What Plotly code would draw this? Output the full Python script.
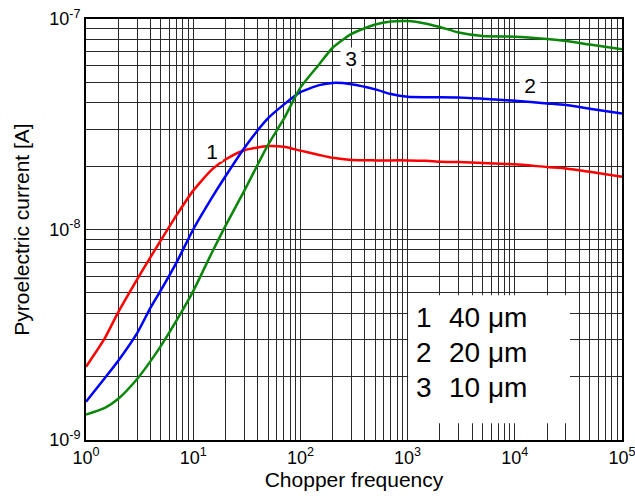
import plotly.graph_objects as go
import math

# ---- data ----
freq = [1, 1.5, 2, 3, 4, 5, 7, 10, 15, 20, 30, 50, 70, 100, 150, 200, 300, 500, 700,
        1000, 1500, 2000, 3000, 5000, 1e4, 2e4, 3e4, 5e4, 1e5]

cur_40um = [2.23e-9, 3.05e-9, 4.05e-9, 5.8e-9, 7.4e-9, 8.9e-9, 1.17e-8, 1.53e-8, 1.93e-8, 2.15e-8,
            2.38e-8, 2.49e-8, 2.47e-8, 2.37e-8, 2.26e-8, 2.19e-8, 2.14e-8, 2.13e-8, 2.13e-8,
            2.13e-8, 2.12e-8, 2.1e-8, 2.09e-8, 2.07e-8, 2.04e-8, 1.98e-8, 1.95e-8, 1.88e-8, 1.78e-8]

cur_20um = [1.52e-9, 1.97e-9, 2.38e-9, 3.22e-9, 4.25e-9, 5.15e-9, 6.98e-9, 1.0e-8, 1.42e-8, 1.79e-8,
            2.44e-8, 3.38e-8, 3.92e-8, 4.49e-8, 4.85e-8, 4.97e-8, 4.9e-8, 4.63e-8, 4.4e-8,
            4.27e-8, 4.25e-8, 4.25e-8, 4.24e-8, 4.18e-8, 4.09e-8, 3.97e-8, 3.9e-8, 3.75e-8, 3.56e-8]

cur_10um = [1.32e-9, 1.42e-9, 1.57e-9, 1.95e-9, 2.37e-9, 2.8e-9, 3.7e-9, 5.1e-9, 7.8e-9, 1.04e-8,
            1.53e-8, 2.53e-8, 3.35e-8, 4.72e-8, 6.1e-8, 7.3e-8, 8.5e-8, 9.42e-8, 9.73e-8,
            9.78e-8, 9.5e-8, 9.16e-8, 8.63e-8, 8.3e-8, 8.24e-8, 8.03e-8, 7.86e-8, 7.56e-8, 7.18e-8]

series_names = ["1", "2", "3"]
series_colors = ["#ff0000", "#0000ff", "#0a870a"]
legend_numbers = ["1", "2", "3"]
legend_values = ["40 \u03bcm", "20 \u03bcm", "10 \u03bcm"]

x_tickvals = [1, 10, 100, 1000, 1e4, 1e5]
x_ticktext = ["10<sup>0</sup>", "10<sup>1</sup>", "10<sup>2</sup>", "10<sup>3</sup>",
              "10<sup>4</sup>", "10<sup>5</sup>"]
y_tickvals = [1e-9, 1e-8, 1e-7]
y_ticktext = ["10<sup>-9</sup>", "10<sup>-8</sup>", "10<sup>-7</sup>"]

# curve label positions (data coords)
label_pos = [(15, 2.36e-8), (13800, 4.86e-8), (297, 6.53e-8)]

x_minor = [m * 10 ** k for k in range(0, 5) for m in range(2, 10)]
y_minor = [m * 10 ** k for k in range(-9, -7) for m in range(2, 10)]

FONT = "Liberation Sans, Arial, sans-serif"

fig = go.Figure()
for ys, name, col in zip([cur_40um, cur_20um, cur_10um], series_names, series_colors):
    fig.add_trace(go.Scatter(x=freq, y=ys, mode="lines", name=name,
                             line=dict(color=col, width=2.5, shape="spline", smoothing=0.6),
                             showlegend=False))

for (lx, ly), txt in zip(label_pos, series_names):
    fig.add_annotation(x=math.log10(lx), y=math.log10(ly), text=txt, showarrow=False,
                       bgcolor="white", font=dict(size=21, color="black", family=FONT),
                       borderpad=0, width=20, height=20, valign="middle")

# legend box
fig.add_shape(type="rect", xref="paper", yref="paper", x0=0.601, x1=0.903, y0=0.040, y1=0.344,
              fillcolor="white", line=dict(width=0), layer="above")
leg_y = [0.292, 0.207, 0.124]
for yy, num, val in zip(leg_y, legend_numbers, legend_values):
    fig.add_annotation(xref="paper", yref="paper", x=0.612, y=yy, text=num, showarrow=False,
                       xanchor="left", yanchor="middle",
                       font=dict(size=28, color="black", family=FONT))
    fig.add_annotation(xref="paper", yref="paper", x=0.674, y=yy, text=val, showarrow=False,
                       xanchor="left", yanchor="middle",
                       font=dict(size=28, color="black", family=FONT))

grid_col = "#2a2a2a"
fig.update_xaxes(type="log", range=[0, 5], tickmode="array", tickvals=x_tickvals,
                 ticktext=x_ticktext, showgrid=True, gridcolor=grid_col, gridwidth=1,
                 minor=dict(tickmode="array", tickvals=x_minor, showgrid=True,
                            gridcolor=grid_col, gridwidth=1),
                 showline=True, linecolor="black", linewidth=2, mirror=True,
                 ticks="", zeroline=False, automargin=False, ticklabeloverflow="allow",
                 tickfont=dict(size=18, color="black", family=FONT),
                 title=dict(text="Chopper frequency", standoff=4,
                            font=dict(size=21, color="black", family=FONT)))
fig.update_yaxes(type="log", range=[-9, -7], tickmode="array", tickvals=y_tickvals,
                 ticktext=y_ticktext, showgrid=True, gridcolor=grid_col, gridwidth=1,
                 minor=dict(tickmode="array", tickvals=y_minor, showgrid=True,
                            gridcolor=grid_col, gridwidth=1),
                 showline=True, linecolor="black", linewidth=2, mirror=True,
                 ticks="", zeroline=False, automargin=False, ticklabeloverflow="allow",
                 tickfont=dict(size=18, color="black", family=FONT),
                 title=dict(text="Pyroelectric current [A]", standoff=14,
                            font=dict(size=21, color="black", family=FONT)))

fig.update_layout(width=635, height=496, margin=dict(l=86, r=13, t=19, b=56),
                  paper_bgcolor="white", plot_bgcolor="white",
                  font=dict(family=FONT, color="black"))

fig.write_html("out.html", config={"displayModeBar": False},
               post_script="document.body.style.margin='0px';")
